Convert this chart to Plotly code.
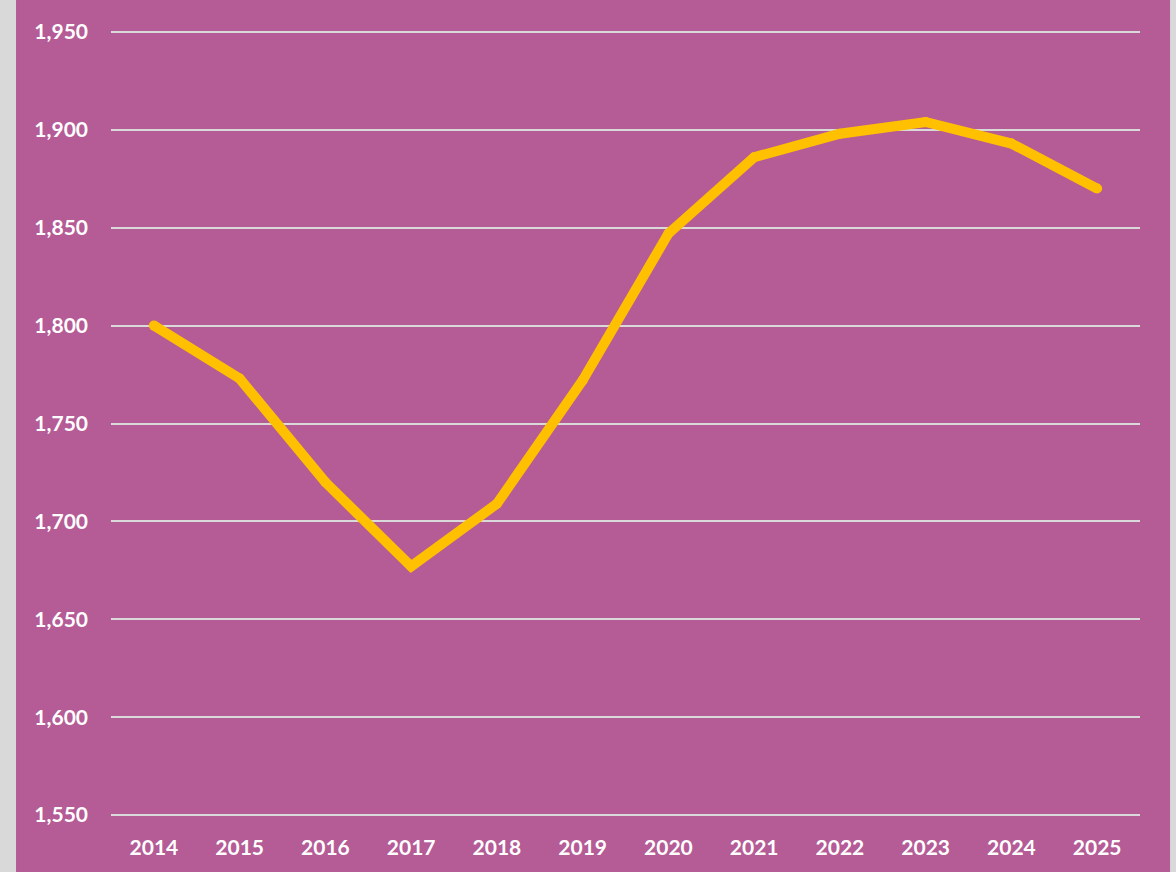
import plotly.graph_objects as go

# Annual values
years = ["2014", "2015", "2016", "2017", "2018", "2019",
         "2020", "2021", "2022", "2023", "2024", "2025"]
values = [1800, 1773, 1720, 1677, 1709, 1772,
          1847, 1886, 1898, 1904, 1893, 1870]

y_ticks = [1550, 1600, 1650, 1700, 1750, 1800, 1850, 1900, 1950]

PANEL = "#B55B96"
FRAME = "#D9D9D9"
LINE = "#FFC000"
FAMILY = "Lato, Calibri, Carlito, sans-serif"
TICKFONT = dict(family=FAMILY, size=21, color="white", weight="bold")

fig = go.Figure()
# thick line; markers of the same width give round caps and joins
fig.add_trace(go.Scatter(
    x=years, y=values, mode="lines+markers",
    line=dict(color=LINE, width=10),
    marker=dict(color=LINE, size=10, line=dict(width=0)),
    hoverinfo="skip",
))

fig.update_layout(
    width=1176, height=872,
    margin=dict(l=111, r=36, t=30, b=55),
    paper_bgcolor=FRAME,
    plot_bgcolor=PANEL,
    showlegend=False,
    shapes=[dict(
        type="rect", xref="paper", yref="paper",
        x0=-0.0923, x1=1.0292, y0=-0.1, y1=1.04,
        fillcolor=PANEL, line=dict(width=0), layer="below",
    )],
    xaxis=dict(
        type="category", range=[-0.5, 11.5],
        showgrid=False, zeroline=False, showline=False,
        ticks="", ticklabelstandoff=16,
        tickfont=TICKFONT,
    ),
    yaxis=dict(
        range=[1549, 1951], tickvals=y_ticks,
        tickformat=",d",
        showgrid=True, gridcolor=FRAME, gridwidth=2,
        zeroline=False, showline=False,
        ticks="", ticklabelstandoff=22,
        tickfont=TICKFONT,
    ),
)

fig.write_html("out.html")
